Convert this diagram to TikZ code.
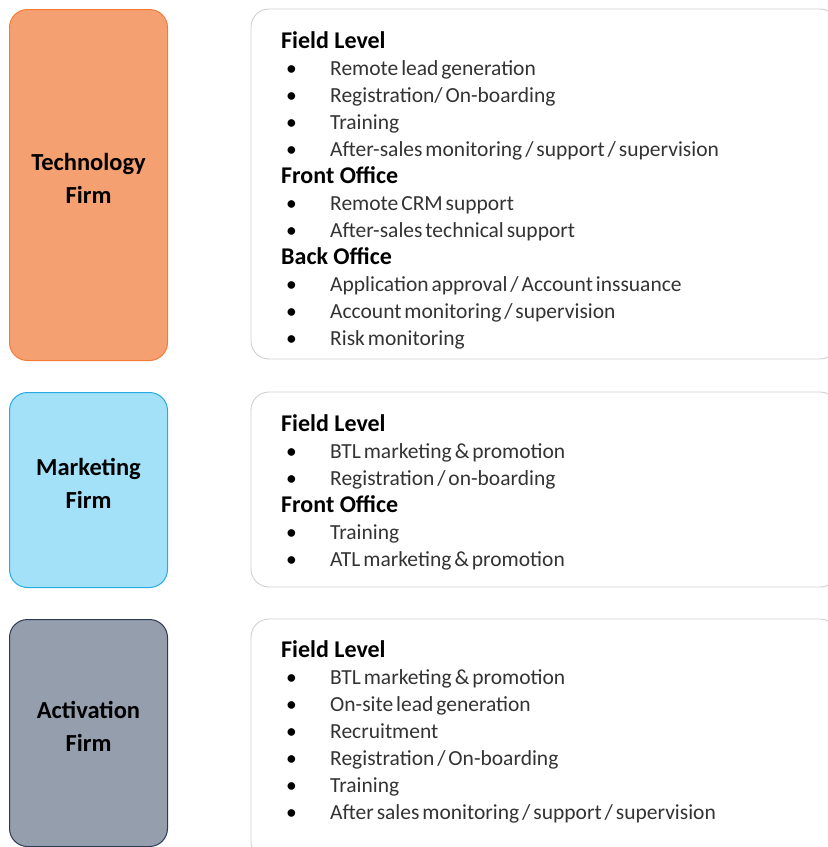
\documentclass[tikz,border=0pt]{standalone}
\usepackage{fontspec}
\setmainfont{Carlito}[WordSpace=0.6]
\newfontfamily\headfont{Carlito}
\usepackage{array}
\definecolor{techfill}{HTML}{F5A071}
\definecolor{techline}{HTML}{F47B37}
\definecolor{mktfill}{HTML}{A3E1F8}
\definecolor{mktline}{HTML}{29ABE2}
\definecolor{actfill}{HTML}{959EAC}
\definecolor{actline}{HTML}{2B3A55}
\definecolor{panelline}{HTML}{D0D0D0}
\definecolor{itemtext}{HTML}{333333}
\newcommand{\duty}[1]{\textcolor{black}{•} & #1\\}
\newcommand{\level}[1]{\multicolumn{2}{@{}l@{}}{\color{black}\headfont\fontsize{24}{27}\selectfont\bfseries #1}\\}

\begin{document}
\begin{tikzpicture}[x=1pt,y=-1pt,
    firmbox/.style={draw=#1line, fill=#1fill, line width=1pt, rounded corners=18pt,
      minimum width=158pt, anchor=north west, align=center, text depth=14pt,
      font=\headfont\fontsize{24.5}{33}\selectfont\bfseries},
    panel/.style={draw=panelline, line width=0.9pt, rounded corners=18pt},
    duties/.style={anchor=north west, inner sep=0pt, text=itemtext,
      font=\fontsize{21.5}{27}\selectfont}]
    \useasboundingbox (0,0) rectangle (828,847);

    % Firm boxes on the left
    \node[firmbox=tech, minimum height=351pt] (tech) at (9,9) {Technology\\Firm};
    \node[firmbox=mkt, minimum height=195pt] (mkt) at (9,392) {Marketing\\Firm};
    \node[firmbox=act, minimum height=227pt] (act) at (9,619) {Activation\\Firm};

    % Panels on the right (they run past the right edge)
    \draw[panel] (251,9) rectangle (838,359);
    \draw[panel] (251,392) rectangle (838,587);
    \draw[panel] (251,619) rectangle (838,860);

    % Duties of each firm
    \node[duties] (techduties) at (281,29) {%
      \begin{tabular}{@{}>{\hspace{5pt}}p{49pt}@{}l@{}}
        \level{Field Level}
        \duty{Remote lead generation}
        \duty{Registration/ On-boarding}
        \duty{Training}
        \duty{After-sales monitoring / support / supervision}
        \level{Front Office}
        \duty{Remote CRM support}
        \duty{After-sales technical support}
        \level{Back Office}
        \duty{Application approval / Account inssuance}
        \duty{Account monitoring / supervision}
        \duty{Risk monitoring}
      \end{tabular}};
    \node[duties] (mktduties) at (281,412) {%
      \begin{tabular}{@{}>{\hspace{5pt}}p{49pt}@{}l@{}}
        \level{Field Level}
        \duty{BTL marketing \& promotion}
        \duty{Registration / on-boarding}
        \level{Front Office}
        \duty{Training}
        \duty{ATL marketing \& promotion}
      \end{tabular}};
    \node[duties] (actduties) at (281,638) {%
      \begin{tabular}{@{}>{\hspace{5pt}}p{49pt}@{}l@{}}
        \level{Field Level}
        \duty{BTL marketing \& promotion}
        \duty{On-site lead generation}
        \duty{Recruitment}
        \duty{Registration / On-boarding}
        \duty{Training}
        \duty{After sales monitoring / support / supervision}
      \end{tabular}};
\end{tikzpicture}
\end{document}
